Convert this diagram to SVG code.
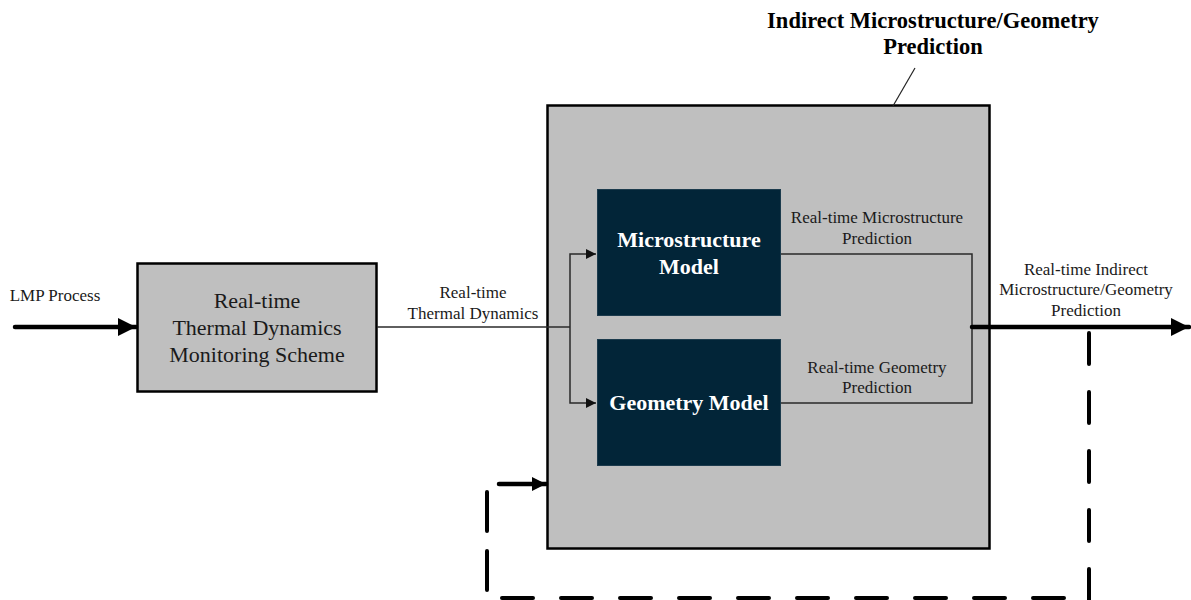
<svg xmlns="http://www.w3.org/2000/svg" width="1191" height="600" viewBox="0 0 1191 600">
  <defs>
    <marker id="thin-arrow" viewBox="0 0 10 10" refX="10" refY="5" markerWidth="10" markerHeight="10" markerUnits="userSpaceOnUse" orient="auto">
      <path d="M0,0 L10,5 L0,10 Z" fill="#111"/>
    </marker>
    <marker id="bold-arrow" viewBox="0 0 10 10" refX="10" refY="5" markerWidth="19" markerHeight="18" markerUnits="userSpaceOnUse" orient="auto">
      <path d="M0,0 L10,5 L0,10 Z" fill="#000"/>
    </marker>
    <marker id="mid-arrow" viewBox="0 0 10 10" refX="10" refY="5" markerWidth="14" markerHeight="15" markerUnits="userSpaceOnUse" orient="auto">
      <path d="M0,0 L10,5 L0,10 Z" fill="#000"/>
    </marker>
  </defs>
  <style>
    text { font-family: "Liberation Serif", "Times New Roman", serif; fill: #1a1a1a; text-anchor: middle; }
    .lbl { font-size: 17px; }
    .box-txt { font-size: 22px; }
    .model-txt { font-size: 22px; font-weight: bold; fill: #ffffff; }
    .title { font-size: 22.5px; font-weight: bold; fill: #000; }
    .gray { fill: #bfbfbf; stroke: #000; stroke-width: 2.5; }
    .model { fill: #022538; stroke: #1c3b4d; stroke-width: 1; }
    .thin { fill: none; stroke: #2a2a2a; stroke-width: 1.5; }
    .thick { fill: none; stroke: #000; stroke-width: 4.5; stroke-linecap: round; }
    .dash { fill: none; stroke: #000; stroke-width: 4; stroke-linecap: round; stroke-dasharray: 31 28; }
  </style>

  <rect width="1191" height="600" fill="#ffffff"/>

  <!-- outer prediction block -->
  <g id="indirect-prediction">
    <rect class="gray" x="547.5" y="105.5" width="442" height="443"/>
    <text class="title" x="933" y="28">Indirect Microstructure/Geometry</text>
    <text class="title" x="933" y="54">Prediction</text>
    <line x1="915" y1="68" x2="893" y2="106" stroke="#222" stroke-width="1.2"/>
  </g>

  <g id="monitoring-scheme">
    <rect class="gray" x="137.5" y="263.5" width="239" height="128"/>
    <text class="box-txt" x="257" y="308">Real-time</text>
    <text class="box-txt" x="257" y="335">Thermal Dynamics</text>
    <text class="box-txt" x="257" y="362">Monitoring Scheme</text>
  </g>

  <g id="microstructure-model">
    <rect class="model" x="597.5" y="189.5" width="183" height="126"/>
    <text class="model-txt" x="689" y="247">Microstructure</text>
    <text class="model-txt" x="689" y="274">Model</text>
  </g>

  <g id="geometry-model">
    <rect class="model" x="597.5" y="339.5" width="183" height="126"/>
    <text class="model-txt" x="689" y="410">Geometry Model</text>
  </g>

  <g id="connectors">
    <!-- process input -->
    <line class="thick" x1="15" y1="327" x2="136" y2="327" marker-end="url(#bold-arrow)"/>
    <!-- thermal dynamics feed, split to both models -->
    <polyline class="thin" points="377,327 570,327"/>
    <polyline class="thin" points="570,327 570,254 596,254" marker-end="url(#thin-arrow)"/>
    <polyline class="thin" points="570,327 570,403 596,403" marker-end="url(#thin-arrow)"/>
    <!-- model outputs merge -->
    <polyline class="thin" points="781,254 972,254 972,403 781,403"/>
    <!-- combined output -->
    <line class="thick" x1="972" y1="327" x2="1189" y2="327" marker-end="url(#bold-arrow)"/>
    <!-- feedback loop -->
    <line class="dash" x1="1089" y1="333" x2="1089" y2="602"/>
    <line class="dash" x1="1064" y1="598" x2="480" y2="598"/>
    <line class="dash" x1="487" y1="590" x2="487" y2="492" style="stroke-dasharray: 39 20"/>
    <line class="thick" x1="499" y1="484" x2="546" y2="484" stroke-width="4" marker-end="url(#mid-arrow)"/>
  </g>

  <g id="labels">
    <text class="lbl" x="55" y="301">LMP Process</text>
    <text class="lbl" x="473" y="298">Real-time</text>
    <text class="lbl" x="473" y="319">Thermal Dynamics</text>
    <text class="lbl" x="877" y="223">Real-time Microstructure</text>
    <text class="lbl" x="877" y="244">Prediction</text>
    <text class="lbl" x="877" y="373">Real-time Geometry</text>
    <text class="lbl" x="877" y="393">Prediction</text>
    <text class="lbl" x="1086" y="275">Real-time Indirect</text>
    <text class="lbl" x="1086" y="295">Microstructure/Geometry</text>
    <text class="lbl" x="1086" y="316">Prediction</text>
  </g>
</svg>
